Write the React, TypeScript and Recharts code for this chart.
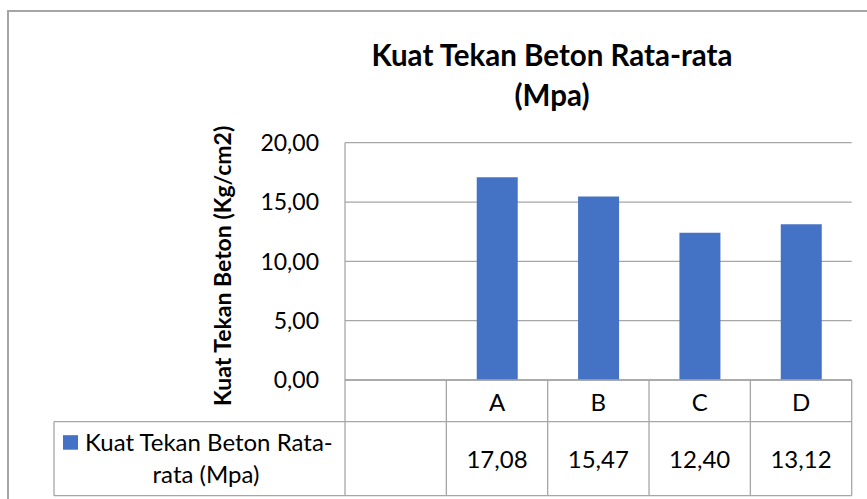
import React from 'react';
import { BarChart, Bar, XAxis, YAxis, CartesianGrid } from 'recharts';

const categories = ['', 'A', 'B', 'C', 'D'];
const values: (number | null)[] = [null, 17.08, 15.47, 12.4, 13.12];
const yTicks = [0, 5, 10, 15, 20];
const seriesLine1 = 'Kuat Tekan Beton Rata-';
const seriesLine2 = 'rata (Mpa)';
const titleLine1 = 'Kuat Tekan Beton Rata-rata';
const titleLine2 = '(Mpa)';
const yTitle = 'Kuat Tekan Beton (Kg/cm2)';

const data = categories.map((c, i) => ({ cat: c, value: values[i] }));

const FONT = 'Lato, "Open Sans", sans-serif';
const GRID = '#a6a6a6';
const BAR = '#4472C4';
const fmt = (v: number) => v.toFixed(2).replace('.', ',');

const HEADER_H = 41.7;
const ROW_H = 74;
const LEGEND_LEFT = 54;
const TABLE_FS = 24;

const TableTick = (props: any) => {
  const { x, y, payload, index, width, visibleTicksCount } = props;
  const half = payload && payload.offset ? payload.offset : width / (2 * (visibleTicksCount || categories.length));
  const left = x - half;
  const right = x + half;
  const v = values[index];
  const yHead = y + HEADER_H;
  const yBot = yHead + ROW_H;
  const plotRight = left + width;
  return (
    <g>
      {index === 0 && (
        <g>
          <line x1={left} y1={y} x2={left} y2={yBot} stroke={GRID} strokeWidth={1.3} />
          <line x1={LEGEND_LEFT} y1={yHead} x2={plotRight} y2={yHead} stroke={GRID} strokeWidth={1.3} />
          <line x1={LEGEND_LEFT} y1={yBot} x2={plotRight} y2={yBot} stroke={GRID} strokeWidth={1.3} />
          <line x1={LEGEND_LEFT} y1={yHead} x2={LEGEND_LEFT} y2={yBot} stroke={GRID} strokeWidth={1.3} />
          <rect x={63} y={yHead + 13.5} width={15} height={14.5} fill={BAR} />
          <text x={85} y={yHead + 20} dominantBaseline="central" fontFamily={FONT} fontSize={TABLE_FS} fill="#000">
            {seriesLine1}
          </text>
          <text x={206} y={yHead + 51.5} dominantBaseline="central" textAnchor="middle" fontFamily={FONT} fontSize={TABLE_FS} fill="#000">
            {seriesLine2}
          </text>
        </g>
      )}
      <line x1={right} y1={y} x2={right} y2={yBot} stroke={GRID} strokeWidth={1.3} />
      <text x={x} y={y + 21.5} textAnchor="middle" dominantBaseline="central" fontFamily={FONT} fontSize={TABLE_FS} fill="#000">
        {payload.value}
      </text>
      {v != null && (
        <text x={x} y={yHead + 36.5} textAnchor="middle" dominantBaseline="central" fontFamily={FONT} fontSize={TABLE_FS} fill="#000">
          {fmt(v)}
        </text>
      )}
    </g>
  );
};

const YLabel = (props: any) => {
  const vb = props.viewBox || { x: 0, y: 143, width: 345, height: 237 };
  const cx = 222;
  const cy = vb.y + vb.height / 2 + 4.5;
  return (
    <text
      x={cx}
      y={cy}
      transform={`rotate(-90, ${cx}, ${cy})`}
      textAnchor="middle"
      dominantBaseline="central"
      fontFamily={FONT}
      fontWeight="bold"
      fontSize={23}
      fill="#000"
    >
      {yTitle}
    </text>
  );
};

export default function App() {
  return (
    <div style={{ position: 'fixed', left: 0, top: 0, width: 867, height: 499, overflow: 'hidden', background: '#fff' }}>
      <div
        style={{
          position: 'absolute',
          left: 7,
          top: 9.5,
          width: 900,
          height: 600,
          border: '2px solid #a6a6a6',
          boxSizing: 'border-box',
        }}
      />
      <div style={{ position: 'absolute', left: 0, top: 0 }}>
        <BarChart
          width={867}
          height={499}
          data={data}
          margin={{ top: 142.7, right: 15.3, left: 0, bottom: 0 }}
          barCategoryGap="30%"
        >
          <CartesianGrid vertical={false} stroke={GRID} strokeWidth={1.3} />
          <XAxis
            dataKey="cat"
            interval={0}
            height={119}
            tickSize={0}
            tickMargin={0}
            tickLine={false}
            axisLine={{ stroke: GRID, strokeWidth: 1.3 }}
            tick={<TableTick />}
          />
          <YAxis
            width={345}
            domain={[0, 20]}
            ticks={yTicks}
            interval={0}
            tickFormatter={fmt}
            tickSize={0}
            tickMargin={26}
            tickLine={false}
            axisLine={{ stroke: GRID, strokeWidth: 1.3 }}
            tick={{ fontFamily: FONT, fontSize: 23, fill: '#000' }}
            label={{ content: (p: any) => <YLabel {...p} /> }}
          />
          <Bar dataKey="value" fill={BAR} isAnimationActive={false} />
        </BarChart>
      </div>
      <div
        style={{
          position: 'absolute',
          left: 252,
          top: 35,
          width: 600,
          textAlign: 'center',
          fontFamily: FONT,
          fontWeight: 'bold',
          fontSize: 29.5,
          lineHeight: '40px',
          color: '#000',
        }}
      >
        <div>{titleLine1}</div>
        <div>{titleLine2}</div>
      </div>
    </div>
  );
}
